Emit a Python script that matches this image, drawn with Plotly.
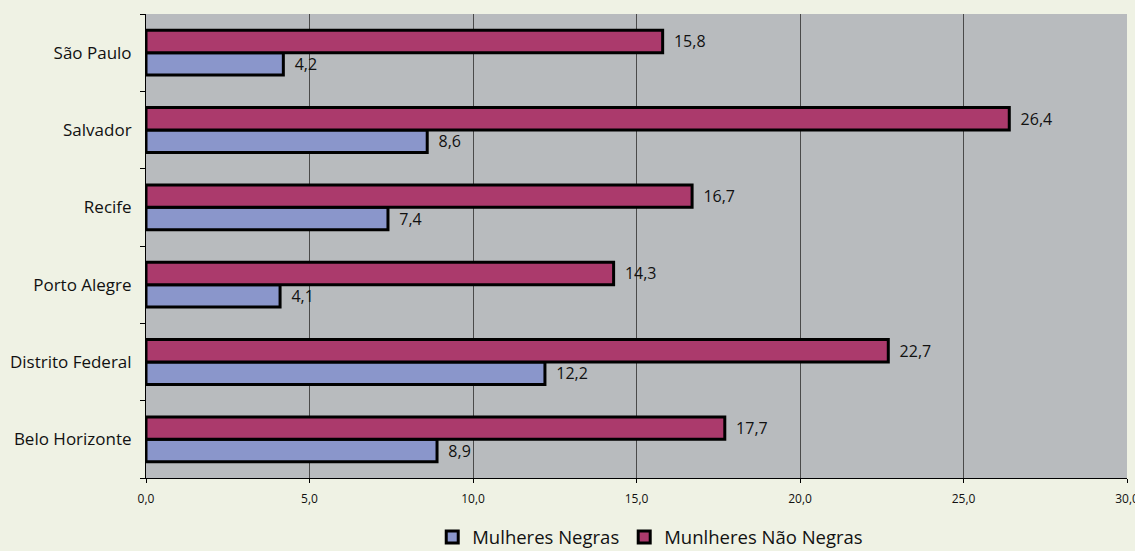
import plotly.graph_objects as go

cidades = ["Belo Horizonte", "Distrito Federal", "Porto Alegre", "Recife", "Salvador", "São Paulo"]
mulheres_negras = [8.9, 12.2, 4.1, 7.4, 8.6, 4.2]
mulheres_nao_negras = [17.7, 22.7, 14.3, 16.7, 26.4, 15.8]
x_ticks = [0, 5, 10, 15, 20, 25, 30]

FONT = "Open Sans"

fig = go.Figure()
fig.add_trace(go.Bar(
    y=cidades, x=mulheres_negras, orientation="h", name="Mulheres Negras",
    marker=dict(color="#8a96cb", line=dict(color="#000000", width=3)),
    texttemplate="  %{x:.1f}", textposition="outside", cliponaxis=False,
    textfont=dict(size=16, color="#111111", family=FONT),
))
fig.add_trace(go.Bar(
    y=cidades, x=mulheres_nao_negras, orientation="h", name="Munlheres Não Negras",
    marker=dict(color="#ab3a6c", line=dict(color="#000000", width=3)),
    texttemplate="  %{x:.1f}", textposition="outside", cliponaxis=False,
    textfont=dict(size=16, color="#111111", family=FONT),
))

fig.update_layout(
    width=1135, height=551,
    margin=dict(l=146, r=8, t=14, b=73, autoexpand=False),
    paper_bgcolor="#eff2e4",
    plot_bgcolor="#b8bbbe",
    separators=",.",
    barmode="group",
    bargap=0.42,
    bargroupgap=0,
    font=dict(family=FONT, color="#111111"),
    xaxis=dict(
        range=[0, 30], tickvals=x_ticks, tickformat=".1f",
        showgrid=True, gridcolor="#4a4a4a", gridwidth=1,
        zeroline=False, showline=True, linecolor="#000000", linewidth=1,
        ticks="outside", ticklen=4, tickcolor="#000000",
        ticklabelstandoff=6, ticklabeloverflow="allow",
        tickfont=dict(size=12, family=FONT),
    ),
    yaxis=dict(
        showgrid=False, zeroline=False, showline=True,
        linecolor="#000000", linewidth=1,
        ticks="outside", ticklen=5, tickcolor="#000000", tickson="boundaries",
        ticklabelstandoff=10,
        tickfont=dict(size=17, family=FONT),
    ),
    legend=dict(
        orientation="h", x=0.514, xanchor="center", y=-0.128, yanchor="middle",
        font=dict(size=18.5, family=FONT), bgcolor="rgba(0,0,0,0)",
        traceorder="normal", itemwidth=30,
    ),
    showlegend=True,
)

fig.write_html("out.html")
